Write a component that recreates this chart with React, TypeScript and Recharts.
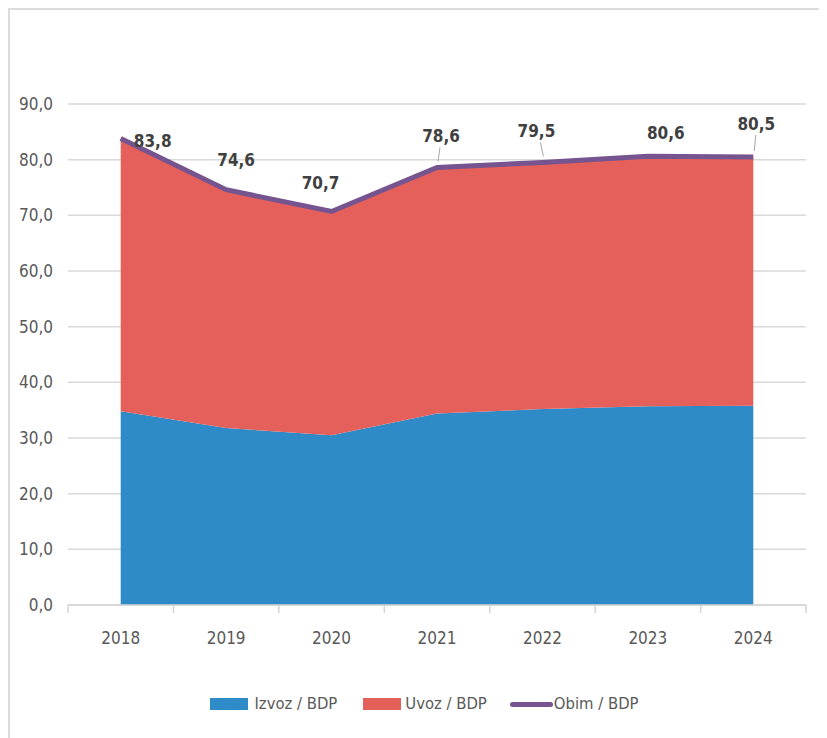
import React from 'react';
import { ComposedChart, Area, Line, XAxis, YAxis, CartesianGrid, Legend, LabelList } from 'recharts';

const years = ['2018', '2019', '2020', '2021', '2022', '2023', '2024'];
const izvoz = [34.8, 31.8, 30.5, 34.4, 35.2, 35.7, 35.8];
const uvoz = [49.0, 42.8, 40.2, 44.2, 44.3, 44.9, 44.7];
const obim = [83.8, 74.6, 70.7, 78.6, 79.5, 80.6, 80.5];
const yTicks = [0, 10, 20, 30, 40, 50, 60, 70, 80, 90];

const data = years.map((y, i) => ({ year: y, izvoz: izvoz[i], uvoz: uvoz[i], obim: obim[i] }));

// layout constants
const FONT = '"DejaVu Sans Condensed", "Liberation Sans Narrow", sans-serif';
const CW = 817;
const CH = 728;
const M = { top: 94, right: 21, left: 0, bottom: 24 };
const YW = 58;
const HALF_BAND = (CW - YW - M.right) / 14;
const labelOffsets: [number, number, boolean][] = [
  [32, 2, false],
  [10, -30, false],
  [-11, -28, false],
  [4, -31, true],
  [-6, -31, true],
  [18, -23, false],
  [3, -33, true],
];

const fmt = (v: number) => v.toFixed(1).replace('.', ',');

const XTick = (props: any) => {
  const { x, y, payload, index } = props;
  const last = index === years.length - 1;
  return (
    <g>
      <line x1={x - HALF_BAND} x2={x - HALF_BAND} y1={y} y2={y + 8} stroke="#d4d4d4" strokeWidth={1.5} />
      {last && <line x1={x + HALF_BAND} x2={x + HALF_BAND} y1={y} y2={y + 8} stroke="#d4d4d4" strokeWidth={1.5} />}
      <text x={x} y={y + 33} textAnchor="middle" dominantBaseline="central" fill="#595959" fontSize={17} fontFamily={FONT}>
        {payload.value}
      </text>
    </g>
  );
};

const ObimLabel = (props: any) => {
  const { x, y, value, index } = props;
  const [dx, dy, leader] = labelOffsets[index] || [0, -30, false];
  return (
    <g>
      {leader && <line x1={x + 1} y1={y - 6} x2={x + dx / 2 + 1} y2={y + dy + 11} stroke="#a6a6a6" strokeWidth={1} />}
      <text x={x + dx} y={y + dy} textAnchor="middle" dominantBaseline="central" fill="#404040" fontSize={17} fontWeight="bold" fontFamily={FONT}>
        {fmt(value)}
      </text>
    </g>
  );
};

const LegendContent = () => {
  const txt: React.CSSProperties = { fontFamily: FONT, fontSize: 16.5, color: '#595959', lineHeight: '20px' };
  return (
    <div style={{ display: 'flex', justifyContent: 'center', alignItems: 'center', height: 20, paddingLeft: 33 }}>
      <span style={{ display: 'inline-block', width: 38, height: 12, background: '#2e8bc8', marginRight: 6 }} />
      <span style={txt}>Izvoz / BDP</span>
      <span style={{ display: 'inline-block', width: 38, height: 12, background: '#e5605b', marginLeft: 26, marginRight: 4 }} />
      <span style={txt}>Uvoz / BDP</span>
      <span style={{ display: 'inline-block', width: 43, height: 5, borderRadius: 3, background: '#76548f', marginLeft: 23, marginRight: 1 }} />
      <span style={txt}>Obim / BDP</span>
    </div>
  );
};

export default function App() {
  return (
    <div style={{ width: 819, height: 730, borderTop: '2px solid #dcdcdc', borderLeft: '2px solid #dcdcdc', boxSizing: 'border-box', background: '#fff' }}>
      <ComposedChart width={CW} height={CH} data={data} margin={M}>
        <CartesianGrid vertical={false} stroke="#d9d9d9" strokeWidth={1.5} />
        <XAxis
          dataKey="year"
          padding={{ left: HALF_BAND, right: HALF_BAND }}
          axisLine={{ stroke: '#d4d4d4', strokeWidth: 1.5 }}
          tickLine={false}
          tickSize={0}
          tickMargin={0}
          tick={<XTick />}
          interval={0}
          height={89}
        />
        <YAxis
          domain={[0, 90]}
          ticks={yTicks}
          width={YW}
          axisLine={false}
          tickLine={false}
          tickSize={0}
          tickMargin={15}
          tickFormatter={fmt}
          tick={{ fill: '#595959', fontSize: 17, fontFamily: FONT }}
        />
        <Area type="linear" dataKey="izvoz" name="Izvoz / BDP" stackId="a" fill="#2e8bc8" fillOpacity={1} stroke="none" isAnimationActive={false} />
        <Area type="linear" dataKey="uvoz" name="Uvoz / BDP" stackId="a" fill="#e5605b" fillOpacity={1} stroke="none" isAnimationActive={false} />
        <Line type="linear" dataKey="obim" name="Obim / BDP" stroke="#76548f" strokeWidth={5} dot={false} isAnimationActive={false}>
          <LabelList dataKey="obim" content={<ObimLabel />} />
        </Line>
        <Legend verticalAlign="bottom" content={<LegendContent />} />
      </ComposedChart>
    </div>
  );
}
